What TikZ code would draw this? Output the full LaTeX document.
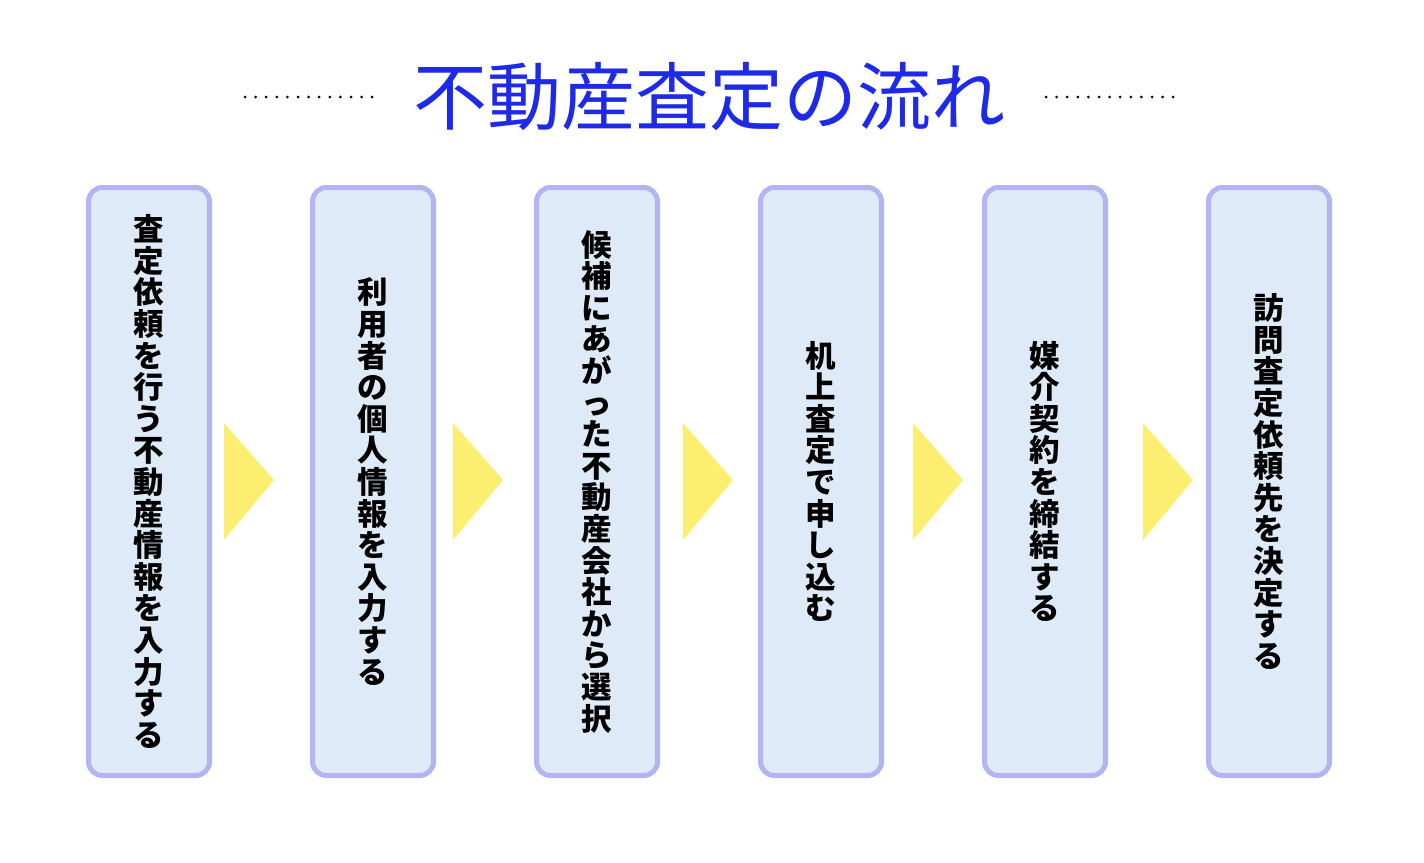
\documentclass[tikz,border=0pt]{standalone}
\usepackage{fontspec}
\newfontfamily\jpfont{Noto Sans CJK JP}
\definecolor{titleblue}{RGB}{30,42,232}
\definecolor{boxfill}{RGB}{223,234,248}
\definecolor{boxline}{RGB}{180,180,244}
\definecolor{arrowyel}{RGB}{251,238,112}
\ExplSyntaxOn
\NewDocumentCommand\vstack{m}{\vbox{\baselineskip=31.6pt\lineskiplimit=-100pt\lineskip=0pt\tl_map_inline:nn{#1}{\hbox_to_wd:nn{34pt}{\hss##1\hss}}}}
\ExplSyntaxOff
\tikzset{
  stepbox/.style={draw=boxline, line width=5pt, fill=boxfill, rounded corners=14pt,
    minimum width=121pt, minimum height=588pt, inner sep=0pt,
    font=\jpfont\bfseries\fontsize{30.5pt}{31.6pt}\selectfont, text=black},
  flowarrow/.style={fill=arrowyel},
  dotline/.style={fill=black},
}
\begin{document}
\begin{tikzpicture}[x=1pt,y=-1pt]
\useasboundingbox (0,0) rectangle (1424,862);
\fill[white] (0,0) rectangle (1424,862);
\node[font=\jpfont\fontsize{74pt}{80pt}\selectfont, text=titleblue, inner sep=0pt] (title) at (709,97) {不動産査定の流れ};
\foreach \i in {0,...,12} {
  \fill[dotline] (245+\i*10.6,97) circle (1.5);
  \fill[dotline] (1046+\i*10.6,97) circle (1.5);
}
\node[stepbox] (b1) at (149,481.5) {\vstack{査定依頼を行う不動産情報を入力する}};
\node[stepbox] (b2) at (373,481.5) {\vstack{利用者の個人情報を入力する}};
\node[stepbox] (b3) at (597,481.5) {\vstack{候補にあがった不動産会社から選択}};
\node[stepbox] (b4) at (821,481.5) {\vstack{机上査定で申し込む}};
\node[stepbox] (b5) at (1045,481.5) {\vstack{媒介契約を締結する}};
\node[stepbox] (b6) at (1269,481.5) {\vstack{訪問査定依頼先を決定する}};
\foreach \x in {224,453,683,913,1143} {
  \fill[flowarrow] (\x,423) -- (\x+50,480) -- (\x,540) -- cycle;
}
\end{tikzpicture}
\end{document}
